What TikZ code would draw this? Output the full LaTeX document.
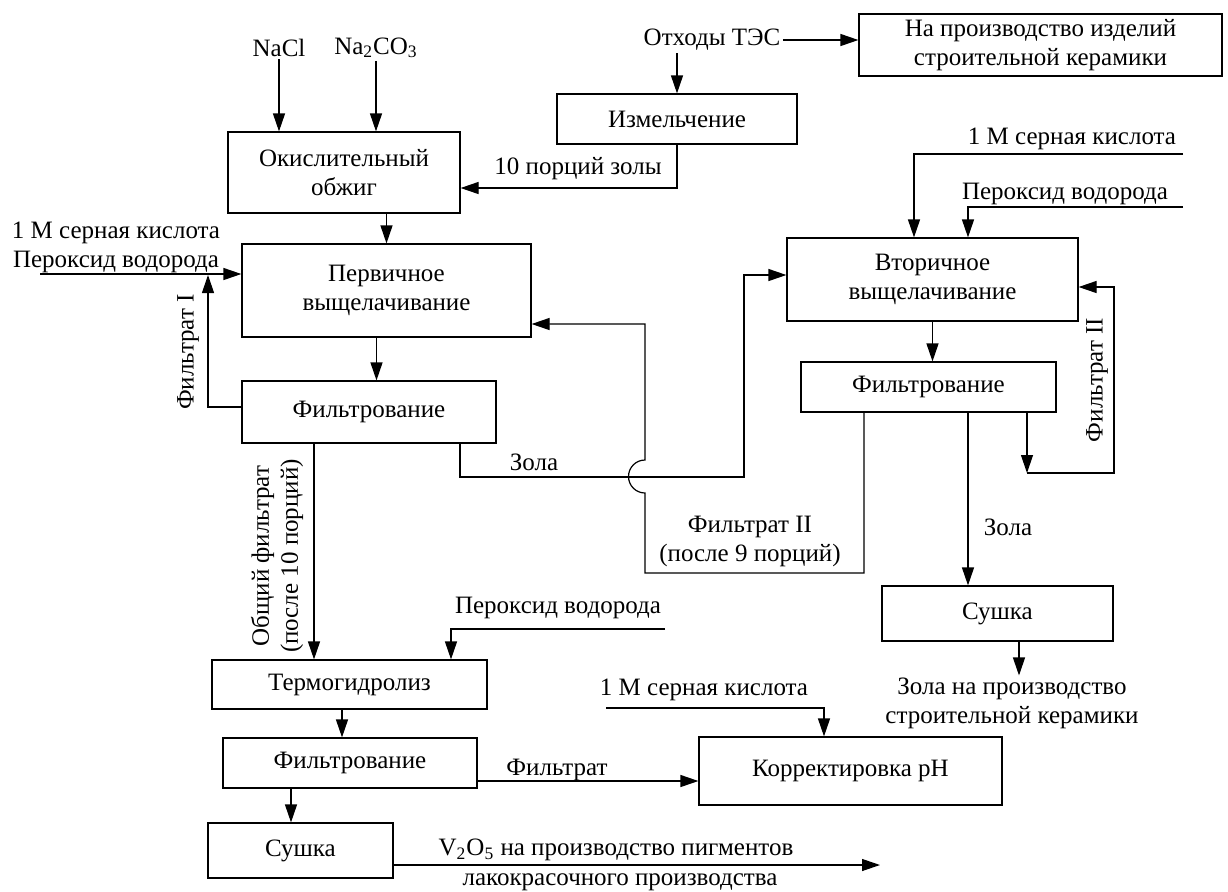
\documentclass[tikz,border=0pt]{standalone}
\usepackage{fontspec}
\setmainfont{Liberation Serif}
\usetikzlibrary{arrows.meta}

\begin{document}
\begin{tikzpicture}[x=0.5pt,y=-0.5pt,line width=0.6pt,>={Triangle[length=9pt,width=6pt]},
	every node/.style={font=\fontsize{12.5}{14.5}\selectfont,align=center,inner sep=1pt},
	box/.style={draw=black}]

	\useasboundingbox (0,0) rectangle (1228,891);

	\node[box,minimum width=116pt,minimum height=40.5pt] (okisl) at (344,172.5) {Окислительный\\обжиг};
	\node[box,minimum width=120pt,minimum height=25pt] (izmel) at (677,119) {Измельчение};
	\node[box,minimum width=181.5pt,minimum height=31pt] (keram) at (1040.5,45) {На производство изделий\\строительной керамики};
	\node[box,minimum width=144.5pt,minimum height=46.5pt] (perv) at (386.5,290.5) {Первичное\\выщелачивание};
	\node[box,minimum width=145.5pt,minimum height=41.5pt] (vtor) at (932.5,279.5) {Вторичное\\выщелачивание};
	\node[box,minimum width=127pt,minimum height=31pt] (filt1) at (369,412) {Фильтрование};
	\node[box,minimum width=127.5pt,minimum height=25pt] (filt2) at (928.5,387) {Фильтрование};
	\node[box,minimum width=115.5pt,minimum height=27.5pt] (sush2) at (997.5,613.5) {Сушка};
	\node[box,minimum width=137.5pt,minimum height=24.5pt] (termo) at (349.5,684.5) {Термогидролиз};
	\node[box,minimum width=127pt,minimum height=25pt] (filt3) at (350,763) {Фильтрование};
	\node[box,minimum width=92.5pt,minimum height=27.5pt] (sush1) at (300.5,850.5) {Сушка};
	\node[box,minimum width=151.5pt,minimum height=34pt] (korr) at (850.5,771) {Корректировка pH};

	\node (nacl) at (279,48) {NaCl};
	\node (soda) at (376,48) {Na\textsubscript{2}CO\textsubscript{3}};
	\node (othody) at (712,40) {Отходы ТЭС};
	\node (zola10) at (578,169) {10 порций золы};
	\node (inl) at (116,247.5) {1 M серная кислота\\Пероксид водорода};
	\node[rotate=90] (f1) at (188,352) {Фильтрат I};
	\node[rotate=90] (obsh) at (277,556) {Общий фильтрат\\(после 10 порций)};
	\node (zola1) at (534,462) {Зола};
	\node (f2a) at (750,541) {Фильтрат II\\(после 9 порций)};
	\node (inr1) at (1072,139) {1 M серная кислота};
	\node (inr2) at (1065,194) {Пероксид водорода};
	\node[rotate=90] (f2b) at (1097,380) {Фильтрат II};
	\node (zola2) at (1008,527) {Зола};
	\node (out2) at (1012,703.5) {Зола на производство\\строительной керамики};
	\node (per2) at (558,608) {Пероксид водорода};
	\node (kisl3) at (704,690) {1 M серная кислота};
	\node (filtrat) at (557,770) {Фильтрат};
	\node (v2o5a) at (616,850) {V\textsubscript{2}O\textsubscript{5} на производство пигментов};
	\node (v2o5b) at (620,882) {лакокрасочного производства};

	\coordinate (inl0) at (40,274);
	\coordinate (f1top) at (208,275);
	\coordinate (jz) at (744,477);
	\coordinate (jf) at (645,573);
	\coordinate (jarc) at (645,493);
	\coordinate (r1) at (1183,154);
	\coordinate (r2) at (1183,207);
	\coordinate (c2) at (1027,473);
	\coordinate (c3) at (1114,287);
	\coordinate (p2) at (665,629);
	\coordinate (s3) at (606,708);
	\coordinate (v2) at (880,865);

	\draw[->] (nacl) -- (nacl |- okisl.north);
	\draw[->] (soda) -- (soda |- okisl.north);
	\draw[->] (perv.north |- okisl.south) -- (perv.north);
	\draw[->] (othody) -- (othody -| keram.west);
	\draw[->] (izmel.north |- othody.south) -- (izmel.north);
	\draw[->] (izmel.south) |- ([yshift=-7.75pt]okisl.east);
	\draw[->] (inl0) -- (inl0 -| perv.west);
	\draw[->] ([yshift=2.5pt]filt1.west) -| (f1top);
	\draw[->] ([xshift=-5pt]perv.south) -- ([xshift=-5pt]perv.south |- filt1.north);
	\draw[->] ([xshift=-27.5pt]filt1.south) -- ([xshift=-27.5pt]filt1.south |- termo.north);
	\draw[->] ([xshift=45.5pt]filt1.south) |- (jz) |- ([yshift=2.25pt]vtor.west);
	\draw[->] ([xshift=-32.25pt]filt2.south) |- (jf) -- (jarc) arc[start angle=270,end angle=90,radius=8.25pt] |- ([yshift=-16.75pt]perv.east);
	\draw[->] (r1) -| ([xshift=-9.25pt]vtor.north);
	\draw[->] (r2) -| ([xshift=17.75pt]vtor.north);
	\draw[->] (vtor.south) -- (vtor.south |- filt2.north);
	\draw[->] (filt2.south -| c2) -- (c2);
	\draw[->] (c2) -| (c3) -- (c3 -| vtor.east);
	\draw[->] ([xshift=19.75pt]filt2.south) -- ([xshift=19.75pt]filt2.south |- sush2.north);
	\draw[->] ([xshift=10.75pt]sush2.south) -- ([xshift=10.75pt]sush2.south |- out2.north);
	\draw[->] (p2) -| ([xshift=50.75pt]termo.north);
	\draw[->] ([xshift=-3.75pt]termo.south) -- ([xshift=-3.75pt]termo.south |- filt3.north);
	\draw[->] ([yshift=-9pt]filt3.east) -- ([yshift=-9pt]filt3.east -| korr.west);
	\draw[->] (s3) -| ([xshift=-13.25pt]korr.north);
	\draw[->] ([xshift=-29.5pt]filt3.south) -- ([xshift=-29.5pt]filt3.south |- sush1.north);
	\draw[->] ([yshift=-7.25pt]sush1.east) -- (v2);
\end{tikzpicture}
\end{document}
